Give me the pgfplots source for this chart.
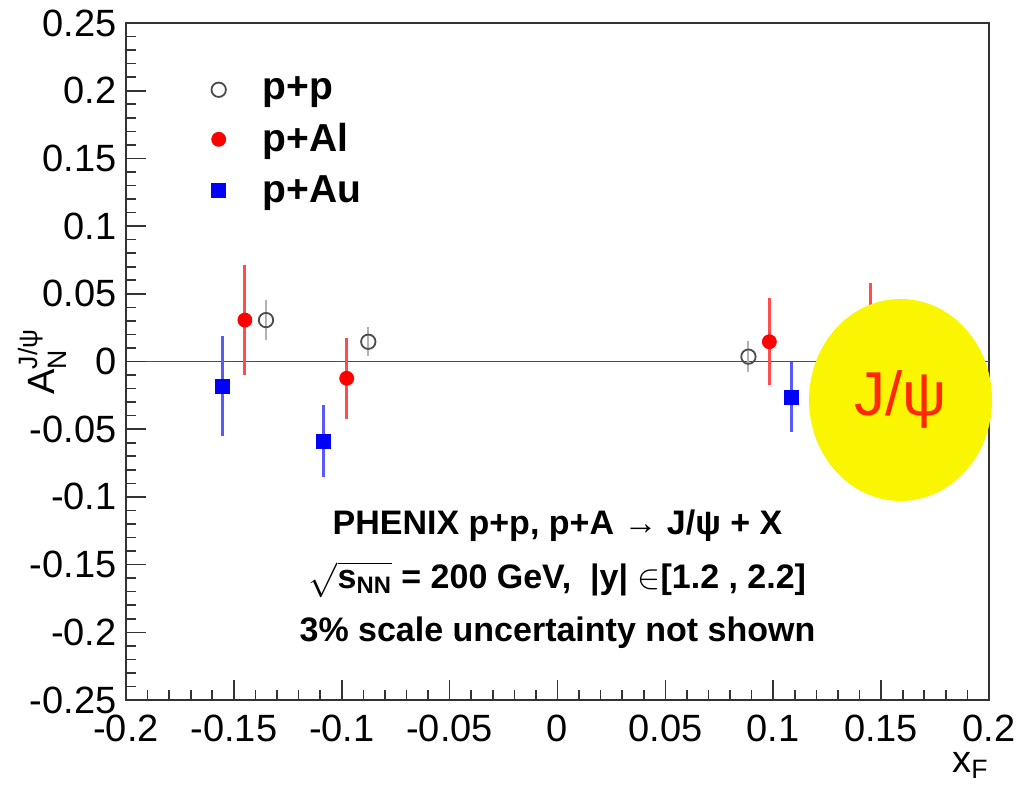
\documentclass[border=0pt]{standalone}
\usepackage{pgfplots}
\pgfplotsset{compat=1.18}
\usepackage{pgfplotstable}
\usepackage{amsmath}
\usepackage{fontspec}
\setmainfont{Liberation Sans}
\definecolor{jpsired}{RGB}{255,40,0}
\definecolor{jpsiyellow}{RGB}{250,245,0}

\pgfplotstableread{
x y e
-0.1351 0.0306 0.0150
-0.0877 0.0146 0.0108
0.0885 0.0036 0.0113
}\pp
\pgfplotstableread{
x y e
-0.1449 0.0306 0.0407
-0.0977 -0.0124 0.0300
0.0982 0.0146 0.0323
0.1452 0.0180 0.0397
}\pal
\pgfplotstableread{
x y e
-0.1552 -0.0181 0.0366
-0.1084 -0.0587 0.0268
0.1086 -0.0265 0.0259
}\pau

\begin{document}
\begin{tikzpicture}
\useasboundingbox (-63pt,-42pt) rectangle (447.5pt,350pt);
\begin{axis}[
  at={(0,0)}, anchor=south west,
  scale only axis, width=431.5pt, height=338.5pt,
  xmin=-0.2, xmax=0.2, ymin=-0.25, ymax=0.25,
  xtick={-0.2,-0.15,-0.1,-0.05,0,0.05,0.1,0.15,0.2},
  xticklabels={-0.2,-0.15,-0.1,-0.05,0,0.05,0.1,0.15,0.2},
  ytick={-0.25,-0.2,-0.15,-0.1,-0.05,0,0.05,0.1,0.15,0.2,0.25},
  yticklabels={-0.25,-0.2,-0.15,-0.1,-0.05,0,0.05,0.1,0.15,0.2,0.25},
  minor x tick num=4, minor y tick num=4,
  tick pos=left, tick align=inside,
  major tick length=10pt, minor tick length=5pt,
  axis line style={black!80, line width=0.8pt},
  tick style={black!80, line width=0.8pt},
  ticklabel style={font=\fontsize{19}{19}\selectfont},
  xticklabel style={inner sep=0pt, yshift=-7.5pt},
  yticklabel style={inner sep=0pt, xshift=-4.5pt},
  extra y ticks={0}, extra y tick labels={},
  extra y tick style={grid=major, major grid style={black!70, line width=0.6pt}},
  xlabel={x$_{\text{F}}$},
  ylabel={A$_{\text{N}}^{\text{J/ψ}}$},
  every axis x label/.style={at={(axis description cs:1,0)}, anchor=north east, yshift=-26pt, inner sep=0pt, font=\fontsize{19}{19}\selectfont},
  every axis y label/.style={at={(axis description cs:-0.0684,0.5)}, rotate=90, anchor=south, inner sep=0pt, font=\fontsize{19}{19}\selectfont},
  legend style={draw=none, fill=none, at={(rel axis cs:0.0986,0.927)}, anchor=north west,
    font=\bfseries\fontsize{19.5}{19.5}\selectfont, row sep=6.5pt, inner sep=0pt,
    /tikz/every odd column/.append style={column sep=16.5pt}},
  legend cell align=left,
]
\addplot[only marks, mark=o, mark size=3.6pt, black!70, mark options={line width=0.9pt},
  error bars/.cd, y dir=both, y explicit, error mark=none,
  error bar style={gray!60, line width=1pt}]
  table[x=x, y=y, y error=e]{\pp};
\addlegendentry{p+p}
\addplot[only marks, mark=*, mark size=3.5pt, red,
  error bars/.cd, y dir=both, y explicit, error mark=none,
  error bar style={red!70, line width=1.5pt}]
  table[x=x, y=y, y error=e]{\pal};
\addlegendentry{p+Al}
\addplot[only marks, mark=square*, mark size=3.5pt, blue,
  error bars/.cd, y dir=both, y explicit, error mark=none,
  error bar style={blue!65, line width=1.5pt}]
  table[x=x, y=y, y error=e]{\pau};
\addlegendentry{p+Au}

\node[anchor=base, font=\bfseries\fontsize{17}{17}\selectfont] at (axis cs:0,-0.1281) {PHENIX p+p, p+A → J/ψ + X};
\node[anchor=base, font=\bfseries\fontsize{17}{17}\selectfont] at (axis cs:0,-0.1673) {$\sqrt{\text{s}_{\text{NN}}}$ = 200 GeV, \ |y| $\in$[1.2 , 2.2]};
\node[anchor=base, font=\bfseries\fontsize{17}{17}\selectfont] at (axis cs:0,-0.2065) {3\% scale uncertainty not shown};
\coordinate (E) at (axis cs:0.159,-0.0284);
\end{axis}
\fill[jpsiyellow] (E) ellipse [x radius=45.75pt, y radius=50.5pt];
\node[text=jpsired, font=\fontsize{31}{31}\selectfont] at (E) {J/ψ};
\end{tikzpicture}
\end{document}
